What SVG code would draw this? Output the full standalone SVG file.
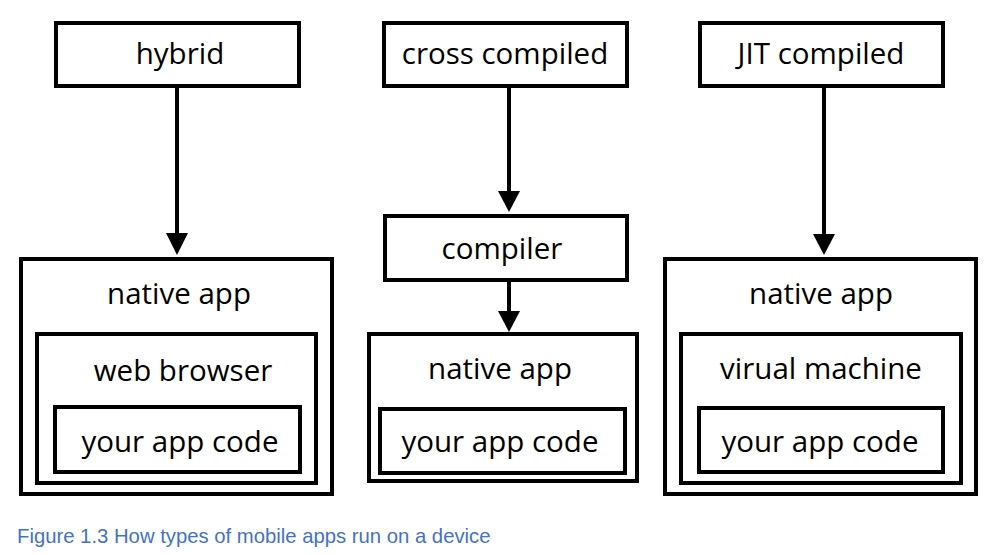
<svg xmlns="http://www.w3.org/2000/svg" width="998" height="555" viewBox="0 0 998 555">
<style>
rect.b{fill:none;stroke:#000;stroke-width:4}
text.t{font-family:"Open Sans","Liberation Sans",sans-serif;font-size:29.5px;fill:#000;text-anchor:middle}
.c line{stroke:#000;stroke-width:4}
.c polygon{fill:#000}
text.cap{font-family:"Liberation Sans",Arial,sans-serif;font-size:20.3px;fill:#4472C4}
</style>
<rect width="998" height="555" fill="#fff"/>
<g id="hybrid"><rect class="b" x="56" y="23" width="243" height="63"/><text class="t" x="180" y="64">hybrid</text></g>
<g id="cross-compiled"><rect class="b" x="384" y="23" width="243" height="63"/><text class="t" x="505" y="64">cross compiled</text></g>
<g id="jit-compiled"><rect class="b" x="700" y="23" width="243" height="63"/><text class="t" x="821" y="64">JIT compiled</text></g>
<g id="compiler"><rect class="b" x="385" y="216" width="242" height="64"/><text class="t" x="502" y="259">compiler</text></g>
<g id="native-app-1"><rect class="b" x="21" y="259" width="311" height="235"/><text class="t" x="179" y="304">native app</text></g>
<g id="web-browser"><rect class="b" x="37" y="334" width="279" height="149"/><text class="t" x="183" y="381">web browser</text></g>
<g id="code-1"><rect class="b" x="55" y="407" width="245" height="65"/><text class="t" x="180" y="452">your app code</text></g>
<g id="native-app-2"><rect class="b" x="369" y="334" width="268" height="147"/><text class="t" x="500" y="379">native app</text></g>
<g id="code-2"><rect class="b" x="380" y="409" width="245" height="64"/><text class="t" x="500" y="452">your app code</text></g>
<g id="native-app-3"><rect class="b" x="665" y="259" width="311" height="235"/><text class="t" x="821" y="304">native app</text></g>
<g id="virtual-machine"><rect class="b" x="681" y="334" width="280" height="149"/><text class="t" x="821" y="379">virual machine</text></g>
<g id="code-3"><rect class="b" x="699" y="408" width="244" height="64"/><text class="t" x="820" y="452">your app code</text></g>
<g id="connectors" class="c">
<line x1="177" y1="88" x2="177" y2="234"/><polygon points="166,233 188,233 177,255"/>
<line x1="509" y1="88" x2="509" y2="192"/><polygon points="498,191 520,191 509,212"/>
<line x1="509" y1="282" x2="509" y2="312"/><polygon points="498,311 520,311 509,332"/>
<line x1="824" y1="88" x2="824" y2="235"/><polygon points="813,234 835,234 824,255"/>
</g>
<text class="cap" x="17" y="543">Figure 1.3 How types of mobile apps run on a device</text>
</svg>
